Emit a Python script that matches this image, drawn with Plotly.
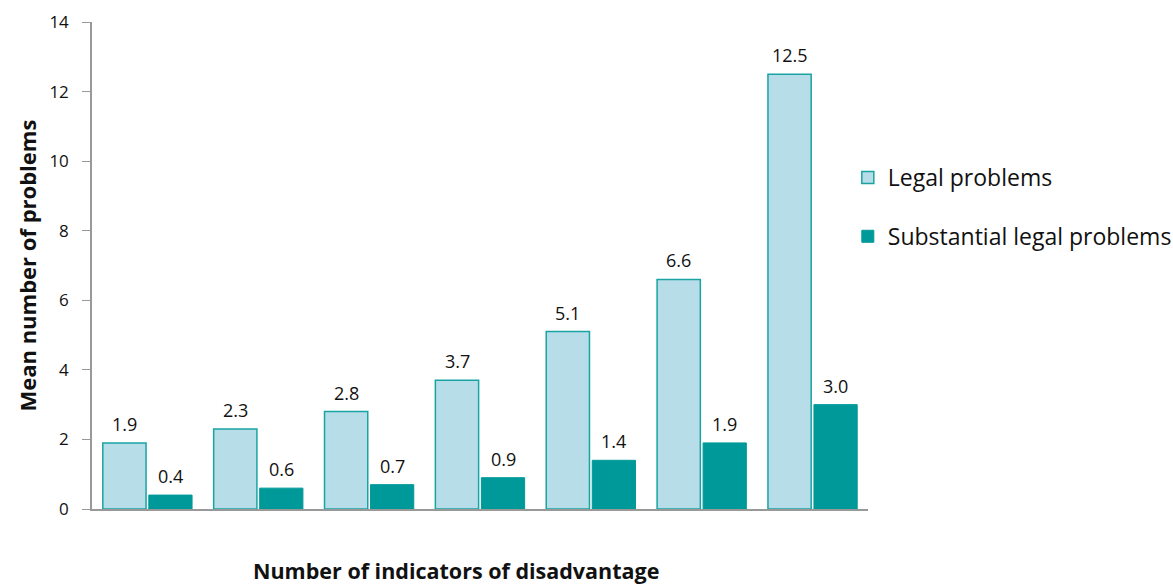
import plotly.graph_objects as go

categories = ["1", "2", "3", "4", "5", "6", "7"]
legal = [1.9, 2.3, 2.8, 3.7, 5.1, 6.6, 12.5]
substantial = [0.4, 0.6, 0.7, 0.9, 1.4, 1.9, 3.0]

FONT = "Open Sans, sans-serif"
BARGAP = 0.17
HALF = (1 - BARGAP) / 4  # offset of each bar centre from category centre

fig = go.Figure()
fig.add_trace(go.Bar(
    x=categories, y=legal, name="Legal problems", legendgroup="a",
    marker=dict(color="#B7DDE8", line=dict(color="#1AA3A3", width=1.5)),
))
fig.add_trace(go.Bar(
    x=categories, y=substantial, name="Substantial legal problems", legendgroup="b",
    marker=dict(color="#009999", line=dict(color="#009999", width=1)),
))

annotations = []
for i, v in enumerate(legal):
    annotations.append(dict(x=i - HALF, y=v, xref="x", yref="y", text=f"{v:.1f}",
                            showarrow=False, yanchor="bottom", yshift=5,
                            font=dict(size=18, family=FONT, color="#111111")))
for i, v in enumerate(substantial):
    annotations.append(dict(x=i + HALF, y=v, xref="x", yref="y", text=f"{v:.1f}",
                            showarrow=False, yanchor="bottom", yshift=5,
                            font=dict(size=18, family=FONT, color="#111111")))
annotations += [
    dict(text="<b>Number of indicators of disadvantage</b>", xref="paper", yref="paper",
         x=0.469, y=-0.127, xanchor="center", yanchor="middle", showarrow=False,
         font=dict(size=21.5, family=FONT, color="#111111")),
    dict(text="<b>Mean number of problems</b>", xref="paper", yref="paper",
         x=-0.085, y=0.5, xanchor="center", yanchor="middle", showarrow=False,
         textangle=-90, font=dict(size=22, family=FONT, color="#111111")),
]

fig.update_layout(
    width=1173, height=587,
    margin=dict(l=92, r=305, t=22, b=78, autoexpand=False),
    paper_bgcolor="white", plot_bgcolor="white",
    barmode="group", bargap=BARGAP, bargroupgap=0.06,
    font=dict(family=FONT, color="#111111"),
    showlegend=True,
    legend=dict(x=0.974, y=0.725, xanchor="left", yanchor="top",
                font=dict(size=23, family=FONT, color="#111111"),
                tracegroupgap=26, itemwidth=30, bgcolor="rgba(0,0,0,0)"),
    xaxis=dict(showticklabels=False, ticks="", showline=True,
               linecolor="#999999", linewidth=1.5, showgrid=False,
               range=[-0.5, 6.5]),
    yaxis=dict(range=[0, 14], dtick=2, ticks="outside", ticklen=8,
               tickcolor="#999999", showline=True, linecolor="#999999",
               linewidth=1.5, showgrid=False, zeroline=False,
               ticklabelstandoff=10,
               tickfont=dict(size=17, family=FONT, color="#111111")),
    annotations=annotations,
)

fig.write_html("out.html")
